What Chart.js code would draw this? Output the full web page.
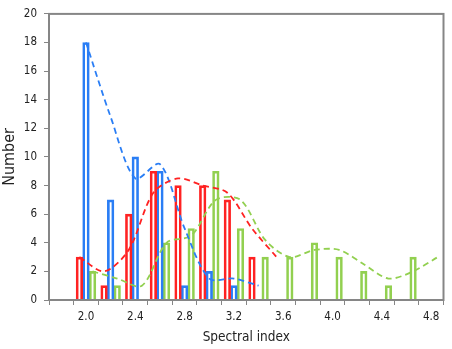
<!DOCTYPE html>
<html>
<head>
<meta charset="utf-8">
<script src="https://cdn.jsdelivr.net/npm/chart.js@4.4.1/dist/chart.umd.min.js"></script>
<style>
  html, body { margin: 0; padding: 0; background: #fff; }
  #wrap { width: 452px; height: 349px; }
</style>
</head>
<body>
<div id="wrap"><canvas id="spectral" width="452" height="349"></canvas></div>
<script>
  // histogram bins (spectral index) and counts per sample
  const categories = ["1.8", "2.0", "2.2", "2.4", "2.6", "2.8", "3.0", "3.2", "3.4", "3.6", "3.8", "4.0", "4.2", "4.4", "4.6", "4.8"];
  const redCounts = [0, 3, 1, 6, 9, 8, 8, 7, 3, 0, 0, 0, 0, 0, 0, 0];
  const blueCounts = [0, 18, 7, 10, 9, 1, 2, 1, 0, 0, 0, 0, 0, 0, 0, 0];
  const greenCounts = [0, 2, 1, 0, 4, 5, 9, 5, 3, 3, 4, 3, 2, 1, 3, 0];

  // dashed trend curves (one value per bin)
  const redFit = [null, 3, 2, 3.5, 7.5, 8.5, 8, 7.5, 5, 3, null, null, null, null, null, null];
  const blueFit = [null, 18, 12.8, 8.5, 9.5, 5, 1.5, 1.5, 1, null, null, null, null, null, null, null];
  const greenFit = [null, 2, 1.5, 1, 4, 4.5, 7, 7, 4.2, 3, 3.5, 3.5, 2.5, 1.5, 2, 3];

  const xTickLabels = ["2.0", "2.4", "2.8", "3.2", "3.6", "4.0", "4.4", "4.8"];
  const yTicks = { min: 0, max: 20, step: 2 };

  const RED = "#ff2222";
  const BLUE = "#2a7ef5";
  const GREEN = "#92d050";
  const AXIS = "#868686";
  const FONT = '"DejaVu Sans Condensed", "DejaVu Sans", sans-serif';

  // each bin is 0.2 wide; the three bars fill 80% of it, red | blue | green
  const binWidth = 0.2;
  const slot = binWidth * 0.8 / 3;
  const xMin = parseFloat(categories[0]) - binWidth / 2;
  const xMax = parseFloat(categories[categories.length - 1]) + binWidth / 2;

  const toPoints = (values, offset, skipZero) =>
    categories
      .map((c, i) => {
        const v = values[i];
        if (v == null || (skipZero && v === 0)) return null;
        return { x: parseFloat(c) + offset, y: v };
      })
      .filter(Boolean);

  const barSet = (counts, offset, color) => ({
    type: "bar",
    data: toPoints(counts, offset, true),
    backgroundColor: "rgba(255,255,255,0)",
    borderColor: color,
    borderWidth: 2,
    borderSkipped: "start",
    grouped: false,
    categoryPercentage: 1,
    barPercentage: 1,
    xAxisID: "xl",
    order: 2
  });

  const lineSet = (fit, offset, color) => ({
    type: "line",
    data: toPoints(fit, offset, false),
    borderColor: color,
    borderWidth: 1.8,
    borderDash: [6, 4],
    pointRadius: 0,
    tension: 0.3,
    fill: false,
    xAxisID: "xl",
    order: 0
  });

  const frame = {
    id: "frame",
    afterDatasetsDraw(chart) {
      const { ctx, chartArea: a } = chart;
      ctx.save();
      ctx.strokeStyle = AXIS;
      ctx.lineWidth = 2;
      ctx.strokeRect(a.left, a.top, a.right - a.left, a.bottom - a.top);
      ctx.restore();
    }
  };

  new Chart(document.getElementById("spectral").getContext("2d"), {
    data: {
      labels: categories,
      datasets: [
        barSet(redCounts, -slot, RED),
        barSet(blueCounts, 0, BLUE),
        barSet(greenCounts, slot, GREEN),
        lineSet(redFit, -slot, RED),
        lineSet(blueFit, 0, BLUE),
        lineSet(greenFit, slot, GREEN)
      ]
    },
    options: {
      responsive: false,
      animation: false,
      devicePixelRatio: 1,
      layout: { padding: { top: 12, right: 8.5, bottom: 0, left: 0 } },
      plugins: { legend: { display: false }, tooltip: { enabled: false } },
      scales: {
        x: {
          type: "category",
          offset: true,
          grid: { offset: true, drawOnChartArea: false, tickLength: 5, color: AXIS },
          border: { display: true, color: AXIS, width: 2 },
          ticks: {
            autoSkip: false,
            maxRotation: 0,
            padding: 5,
            color: "#222",
            font: { family: FONT, size: 11.5 },
            callback: (val, i) => (xTickLabels.includes(categories[i]) ? categories[i] : "")
          },
          title: {
            display: true,
            text: "Spectral index",
            color: "#222",
            font: { family: FONT, size: 13.5 },
            padding: { top: 0, bottom: 3 }
          },
          afterFit: (s) => { s.height = 49; }
        },
        xl: {
          type: "linear",
          display: false,
          offset: false,
          grid: { offset: false },
          min: xMin,
          max: xMax
        },
        y: {
          min: yTicks.min,
          max: yTicks.max,
          grid: { drawOnChartArea: false, tickLength: 5, color: AXIS },
          border: { display: true, color: AXIS, width: 2 },
          ticks: {
            stepSize: yTicks.step,
            padding: 7,
            color: "#222",
            font: { family: FONT, size: 11.5 }
          },
          title: {
            display: true,
            text: "Number",
            color: "#222",
            font: { family: FONT, size: 16 },
            padding: { top: 0, bottom: 0 }
          },
          afterFit: (s) => { s.width = 49; }
        }
      }
    },
    plugins: [frame]
  });
</script>
</body>
</html>
